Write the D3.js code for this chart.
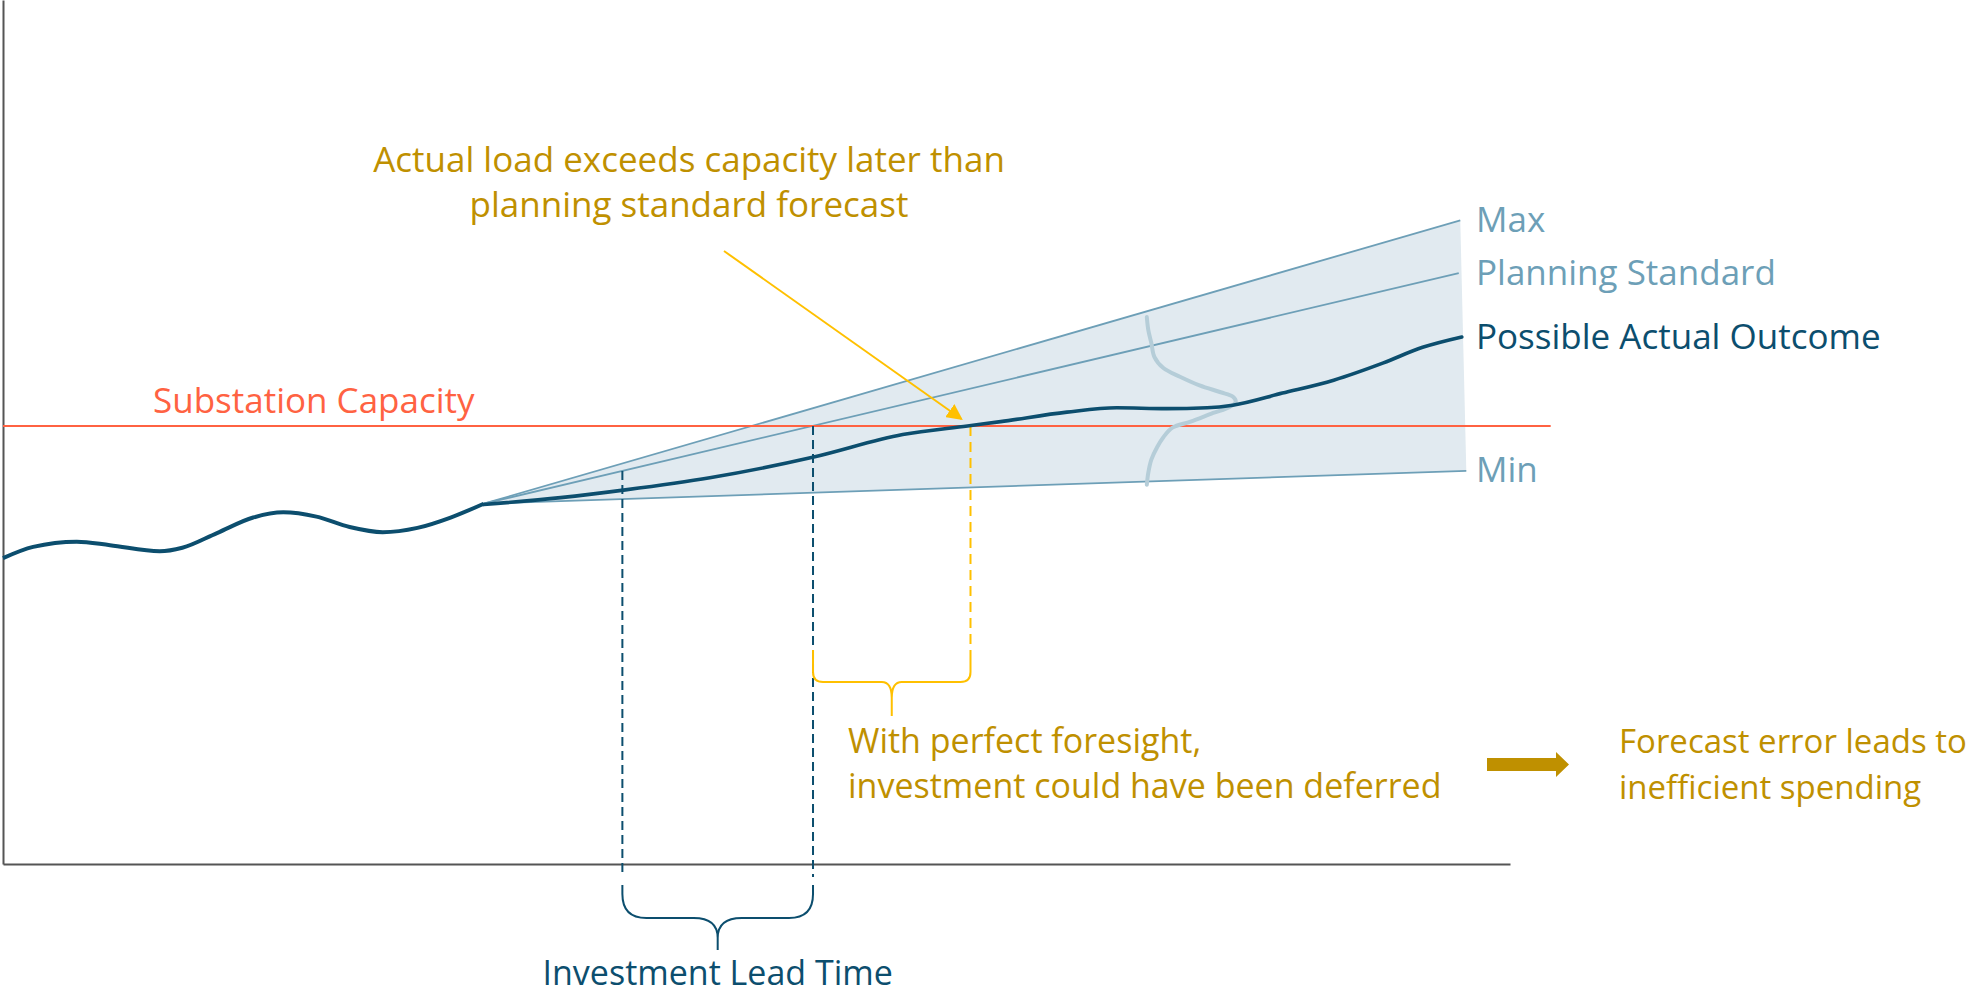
<!DOCTYPE html>
<html>
<head>
<meta charset="utf-8">
<script src="https://cdn.jsdelivr.net/npm/d3@7"></script>
<style>
  html, body { margin: 0; padding: 0; background: #ffffff; }
  svg { display: block; }
  text { font-family: "Open Sans", "Noto Sans", sans-serif; }
</style>
</head>
<body>
<svg id="chart" width="1982" height="997"></svg>
<script>
// ---- data (time and load in arbitrary 0-100 units) ----
const histT = [0, 2.0, 4.9, 7.1, 10.4, 11.9, 14.2, 16.6, 18.6, 20.8, 23.0, 25.2, 27.5, 29.7, 31.9];
const histV = [35.4, 36.7, 37.3, 36.9, 36.2, 36.6, 38.3, 40.1, 40.7, 40.2, 39.0, 38.4, 38.9, 40.1, 41.7];

const outcomeT = [31.9, 37.0, 41.3, 46.9, 53.8, 59.7, 64.0, 66.2, 70.6, 73.9, 77.2, 79.9, 81.6, 84.9, 88.3, 91.6, 94.2, 96.8];
const outcomeV = [41.6, 42.4, 43.3, 44.7, 47.1, 49.7, 50.7, 51.2, 52.3, 52.8, 52.7, 52.8, 53.1, 54.5, 56.0, 58.0, 59.8, 61.0];

const forecastStart = [31.9, 41.7];
const scenarioNames = ["Max", "Planning Standard", "Min"];
const scenarioEndT = [96.7, 96.6, 97.1];
const scenarioEndV = [74.5, 68.4, 45.5];

const capacity = 50.7;
const capacityEndT = 102.7;

const distT = [75.9, 76.0, 76.2, 76.4, 77.0, 78.1, 79.4, 80.8, 81.6, 81.8, 81.4, 80.3, 78.8, 77.6, 77.0, 76.6, 76.2, 76.0, 75.9];
const distV = [63.3, 61.8, 60.3, 58.7, 57.4, 56.4, 55.4, 54.6, 54.1, 53.5, 52.9, 52.2, 51.2, 50.5, 49.4, 48.3, 46.8, 45.3, 43.9];

// key moments on the time axis
const leadStartT = 41.1;    // investment decision
const planCrossT = 53.75;   // planning standard hits capacity
const actualCrossT = 64.2;  // actual load hits capacity

// ---- colours ----
const navy = "#0c4e6e";
const steel = "#6d9fb7";
const bandFill = "#e1eaf0";
const distColor = "#b5cdd8";
const capColor = "#ff6242";
const yellow = "#ffc000";
const gold = "#bf9000";
const axisColor = "#555555";
const fontSize = 35;

const svg = d3.select("#chart");
const x = d3.scaleLinear().domain([0, 100]).range([3, 1510]);
const y = d3.scaleLinear().domain([0, 100]).range([864, 0]);

const line = d3.line().x(d => x(d[0])).y(d => y(d[1]));
const zip = (a, b) => a.map((v, i) => [v, b[i]]);

// forecast band between max and min
const band = [forecastStart, [scenarioEndT[0], scenarioEndV[0]], [scenarioEndT[2], scenarioEndV[2]]];
svg.append("path")
  .attr("d", line(band) + "Z")
  .attr("fill", bandFill);

// scenario lines
scenarioNames.forEach((name, i) => {
  svg.append("path")
    .attr("d", line([forecastStart, [scenarioEndT[i], scenarioEndV[i]]]))
    .attr("fill", "none")
    .attr("stroke", steel)
    .attr("stroke-width", 1.8);
});

// axes (lines only, no ticks)
svg.append("g")
  .attr("transform", `translate(0,${y(0)})`)
  .call(d3.axisBottom(x).tickValues([]).tickSizeOuter(0))
  .call(g => g.select(".domain").attr("stroke", axisColor).attr("stroke-width", 2));
svg.append("g")
  .attr("transform", `translate(${x(0)},0)`)
  .call(d3.axisLeft(y).tickValues([]).tickSizeOuter(0))
  .call(g => g.select(".domain").attr("stroke", axisColor).attr("stroke-width", 2));

// substation capacity
svg.append("path")
  .attr("d", line([[0, capacity], [capacityEndT, capacity]]))
  .attr("stroke", capColor)
  .attr("stroke-width", 2);
svg.append("text")
  .attr("x", 153).attr("y", y(capacity) - 13)
  .attr("fill", capColor)
  .attr("font-size", fontSize)
  .text("Substation Capacity");

// probability distribution sketch
svg.append("path")
  .attr("d", line.curve(d3.curveCatmullRom.alpha(0.5))(zip(distT, distV)))
  .attr("fill", "none")
  .attr("stroke", distColor)
  .attr("stroke-width", 4)
  .attr("stroke-linecap", "round");
line.curve(d3.curveLinear);

// dashed drop lines
const planAt = t => forecastStart[1] + (scenarioEndV[1] - forecastStart[1]) * (t - forecastStart[0]) / (scenarioEndT[1] - forecastStart[0]);
svg.append("line")
  .attr("x1", x(leadStartT)).attr("x2", x(leadStartT))
  .attr("y1", y(planAt(leadStartT))).attr("y2", y(0) + 13)
  .attr("stroke", navy).attr("stroke-width", 2).attr("stroke-dasharray", "9,5");
svg.append("line")
  .attr("x1", x(planCrossT)).attr("x2", x(planCrossT))
  .attr("y1", y(capacity)).attr("y2", y(0) + 13)
  .attr("stroke", navy).attr("stroke-width", 2).attr("stroke-dasharray", "9,5");
svg.append("line")
  .attr("x1", x(actualCrossT)).attr("x2", x(actualCrossT))
  .attr("y1", y(capacity)).attr("y2", 650)
  .attr("stroke", yellow).attr("stroke-width", 2).attr("stroke-dasharray", "10,6");

// curly braces
function brace(x1, x2, yTop, yMid, yTip, r, rx, ry) {
  const xc = (x1 + x2) / 2;
  return `M${x1},${yTop}V${yMid - r}Q${x1},${yMid} ${x1 + r},${yMid}H${xc - rx}Q${xc},${yMid} ${xc},${yMid + ry}V${yTip}` +
         `M${x2},${yTop}V${yMid - r}Q${x2},${yMid} ${x2 - r},${yMid}H${xc + rx}Q${xc},${yMid} ${xc},${yMid + ry}V${yTip}`;
}
svg.append("path")
  .attr("d", brace(x(leadStartT), x(planCrossT), 885, 918, 950, 24, 24, 20))
  .attr("fill", "none").attr("stroke", navy).attr("stroke-width", 2);
svg.append("path")
  .attr("d", brace(x(planCrossT), x(actualCrossT), 650, 682, 716, 10, 10, 16))
  .attr("fill", "none").attr("stroke", yellow).attr("stroke-width", 2);

// load history and possible outcome
svg.append("path")
  .attr("d", line.curve(d3.curveMonotoneX)(zip(histT, histV)))
  .attr("fill", "none").attr("stroke", navy).attr("stroke-width", 4);
svg.append("path")
  .attr("d", line.curve(d3.curveMonotoneX)(zip(outcomeT, outcomeV)))
  .attr("fill", "none").attr("stroke", navy).attr("stroke-width", 3.6).attr("stroke-linecap", "round");

// right-hand labels
const labelX = 1476;
scenarioNames.forEach((name, i) => {
  svg.append("text")
    .attr("x", labelX).attr("y", y(scenarioEndV[i])).attr("dy", "0.33em")
    .attr("fill", steel).attr("font-size", fontSize).text(name);
});
svg.append("text")
  .attr("x", labelX).attr("y", y(outcomeV[outcomeV.length - 1])).attr("dy", "0.33em")
  .attr("fill", navy).attr("font-size", fontSize).text("Possible Actual Outcome");

// callout arrow
const defs = svg.append("defs");
defs.append("marker")
  .attr("id", "head").attr("viewBox", "0 0 10 10")
  .attr("refX", 9).attr("refY", 5)
  .attr("markerWidth", 8).attr("markerHeight", 8)
  .attr("markerUnits", "strokeWidth")
  .attr("orient", "auto")
  .append("path").attr("d", "M0,0L10,5L0,10Z").attr("fill", yellow);
svg.append("line")
  .attr("x1", 724).attr("y1", 251)
  .attr("x2", x(actualCrossT) - 9).attr("y2", y(capacity) - 7)
  .attr("stroke", yellow).attr("stroke-width", 2)
  .attr("marker-end", "url(#head)");

// annotation texts
const callout = svg.append("text").attr("fill", gold).attr("font-size", fontSize).attr("text-anchor", "middle");
callout.append("tspan").attr("x", 689).attr("y", 172).text("Actual load exceeds capacity later than");
callout.append("tspan").attr("x", 689).attr("y", 217).text("planning standard forecast");

const defer = svg.append("text").attr("fill", gold).attr("font-size", 34);
defer.append("tspan").attr("x", 848).attr("y", 753).text("With perfect foresight,");
defer.append("tspan").attr("x", 848).attr("y", 798).text("investment could have been deferred");

const concl = svg.append("text").attr("fill", gold).attr("font-size", 33);
concl.append("tspan").attr("x", 1619).attr("y", 753).text("Forecast error leads to");
concl.append("tspan").attr("x", 1619).attr("y", 799).text("inefficient spending");

svg.append("text")
  .attr("x", (x(leadStartT) + x(planCrossT)) / 2).attr("y", 985)
  .attr("text-anchor", "middle").attr("fill", navy).attr("font-size", 34)
  .text("Investment Lead Time");

// block arrow between the two conclusions
svg.append("path")
  .attr("d", "M1487,758H1556V752L1569,764.5L1556,777V771H1487Z")
  .attr("fill", gold);
</script>
</body>
</html>
